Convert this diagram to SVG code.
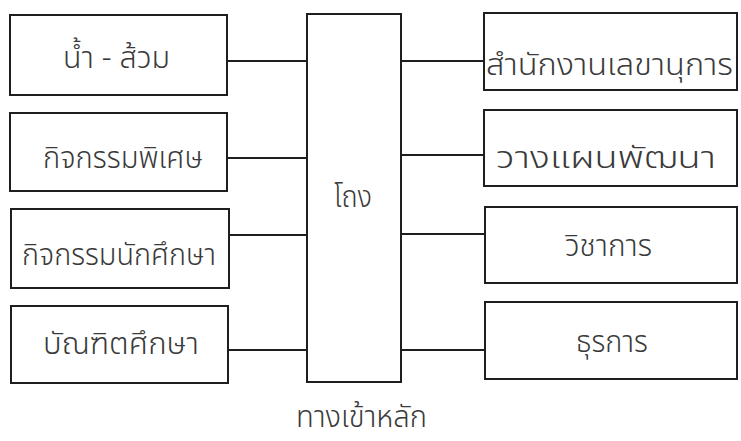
<svg xmlns="http://www.w3.org/2000/svg" width="741" height="441" viewBox="0 0 741 441">
<style>
.box{fill:none;stroke:#1e1e1e;stroke-width:2}
.ln{stroke:#1e1e1e;stroke-width:2;fill:none}
.t{font-family:"Noto Sans Thai","Noto Sans","DejaVu Sans",sans-serif;font-size:31px;fill:#3a3a3a;font-weight:300}
</style>
<rect width="741" height="441" fill="#fff"/>
<g id="connectors">
<line class="ln" x1="227" y1="61" x2="307" y2="61"/>
<line class="ln" x1="227" y1="158" x2="307" y2="158"/>
<line class="ln" x1="230" y1="235" x2="307" y2="235"/>
<line class="ln" x1="227" y1="350" x2="307" y2="350"/>
<line class="ln" x1="401" y1="61" x2="484" y2="61"/>
<line class="ln" x1="401" y1="155" x2="484" y2="155"/>
<line class="ln" x1="401" y1="234" x2="484" y2="234"/>
<line class="ln" x1="401" y1="350" x2="484" y2="350"/>
</g>
<g id="hall">
<rect class="box" x="307" y="14" width="94" height="368"/>
<text class="t" x="334" y="207" textLength="38" lengthAdjust="spacingAndGlyphs">โถง</text>
</g>
<g id="toilet">
<rect class="box" x="10" y="15" width="217" height="80"/>
<text class="t" x="63" y="68" textLength="107" lengthAdjust="spacingAndGlyphs">น้ำ - ส้วม</text>
</g>
<g id="special">
<rect class="box" x="10" y="113" width="217" height="78"/>
<text class="t" x="43" y="168" textLength="160" lengthAdjust="spacingAndGlyphs">กิจกรรมพิเศษ</text>
</g>
<g id="student">
<rect class="box" x="11" y="209" width="218" height="79"/>
<text class="t" x="22" y="265" textLength="194" lengthAdjust="spacingAndGlyphs">กิจกรรมนักศึกษา</text>
</g>
<g id="graduate">
<rect class="box" x="11" y="306" width="217" height="77"/>
<text class="t" x="43" y="354" textLength="156" lengthAdjust="spacingAndGlyphs">บัณฑิตศึกษา</text>
</g>
<g id="secretary">
<rect class="box" x="484" y="13" width="253" height="77"/>
<text class="t" x="486" y="75" textLength="247" lengthAdjust="spacingAndGlyphs">สำนักงานเลขานุการ</text>
</g>
<g id="planning">
<rect class="box" x="484" y="110" width="253" height="76"/>
<text class="t" x="496" y="168" textLength="220" lengthAdjust="spacingAndGlyphs">วางแผนพัฒนา</text>
</g>
<g id="academic">
<rect class="box" x="485" y="207" width="252" height="76"/>
<text class="t" x="565" y="256" textLength="87" lengthAdjust="spacingAndGlyphs">วิชาการ</text>
</g>
<g id="admin">
<rect class="box" x="485" y="302" width="252" height="77"/>
<text class="t" x="576" y="352" textLength="72" lengthAdjust="spacingAndGlyphs">ธุรการ</text>
</g>
<text class="t" x="296" y="427" textLength="131" lengthAdjust="spacingAndGlyphs">ทางเข้าหลัก</text>
</svg>
